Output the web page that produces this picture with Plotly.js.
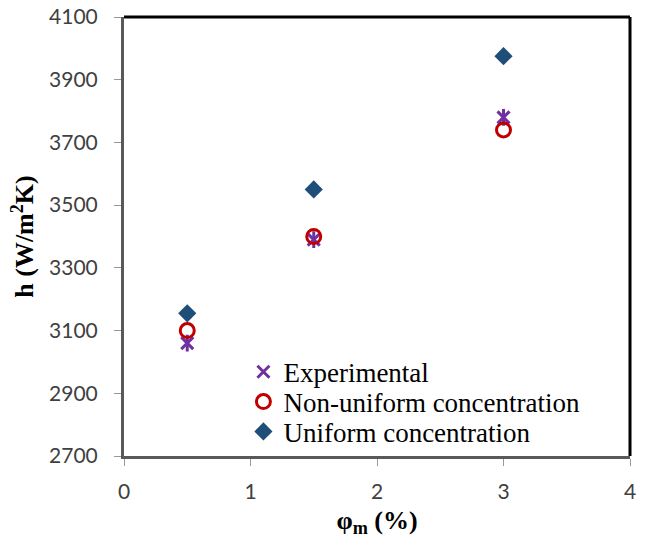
<!DOCTYPE html>
<html><head><meta charset="utf-8">
<script src="https://cdn.plot.ly/plotly-3.0.1.min.js"></script>
<style>body{margin:0;padding:0;background:#fff}</style>
</head><body>
<div id="chart" style="width:648px;height:538px"></div>
<script>
const phi = [0.5, 1.5, 3.0];
const experimental = [3060, 3390, 3780];
const nonUniform = [3100, 3400, 3740];
const uniform = [3155, 3550, 3975];
const seriesNames = ['Experimental', 'Non-uniform concentration', 'Uniform concentration'];

const serif = 'Liberation Serif, Times New Roman, serif';
const legendFont = {family: serif, size: 27, color: '#000'};
function leg(y) {
  return {x: 0.236, y: y, xanchor: 'left', yanchor: 'middle', bgcolor: 'rgba(0,0,0,0)',
          font: legendFont, itemwidth: 30, borderwidth: 0};
}

const traces = [
  {x: phi, y: experimental, name: seriesNames[0], mode: 'markers', type: 'scatter', legend: 'legend',
   legendgroup: 'exp',
   marker: {symbol: 'x-thin-open', size: 12, color: '#7030A0', line: {color: '#7030A0', width: 3}}},
  {x: phi, y: experimental, name: seriesNames[0], mode: 'markers', type: 'scatter', legend: 'legend',
   legendgroup: 'exp', showlegend: false, hoverinfo: 'skip',
   marker: {symbol: 'line-ns-open', size: 12, color: '#7030A0', line: {color: '#7030A0', width: 3}}},
  {x: phi, y: nonUniform, name: seriesNames[1], mode: 'markers', type: 'scatter', legend: 'legend2',
   marker: {symbol: 'circle-open', size: 14, color: '#C00000', line: {color: '#C00000', width: 3}}},
  {x: phi, y: uniform, name: seriesNames[2], mode: 'markers', type: 'scatter', legend: 'legend3',
   marker: {symbol: 'diamond', size: 14, color: '#1F4E79', line: {width: 0}}}
];

const tickFont = {family: 'Lato, Carlito, Liberation Sans, sans-serif', size: 21, color: '#404040'};

const layout = {
  width: 648, height: 538,
  margin: {l: 124, r: 18, t: 17, b: 82},
  paper_bgcolor: '#fff', plot_bgcolor: '#fff',
  showlegend: true,
  legend: leg(0.191),
  legend2: leg(0.123),
  legend3: leg(0.055),
  xaxis: {range: [0, 4], dtick: 1, showgrid: false, zeroline: false,
          showline: true, linecolor: '#595959', linewidth: 3,
          ticks: 'outside', ticklen: 7, tickcolor: '#999', tickwidth: 1,
          ticklabelstandoff: 8, automargin: false,
          tickfont: tickFont,
          title: {text: '<b>φ<sub>m</sub> (%)</b>', standoff: 12,
                  font: {family: serif, size: 26, color: '#000'}}},
  yaxis: {range: [2700, 4100], dtick: 200, tick0: 2700, showgrid: false, zeroline: false,
          showline: true, linecolor: '#595959', linewidth: 3,
          ticks: 'outside', ticklen: 7, tickcolor: '#999', tickwidth: 1,
          ticklabelstandoff: 12, automargin: false,
          tickfont: tickFont,
          title: {text: '<b>h (W/m<sup>2</sup>K)</b>', standoff: 8,
                  font: {family: serif, size: 26, color: '#000'}}},
  shapes: [
    {type: 'line', xref: 'paper', yref: 'paper', x0: 0, x1: 1, y0: 1, y1: 1, line: {color: '#000', width: 3}},
    {type: 'line', xref: 'paper', yref: 'paper', x0: 1, x1: 1, y0: 0, y1: 1, line: {color: '#000', width: 3}}
  ]
};
Plotly.newPlot('chart', traces, layout, {displayModeBar: false});
</script>
</body></html>
